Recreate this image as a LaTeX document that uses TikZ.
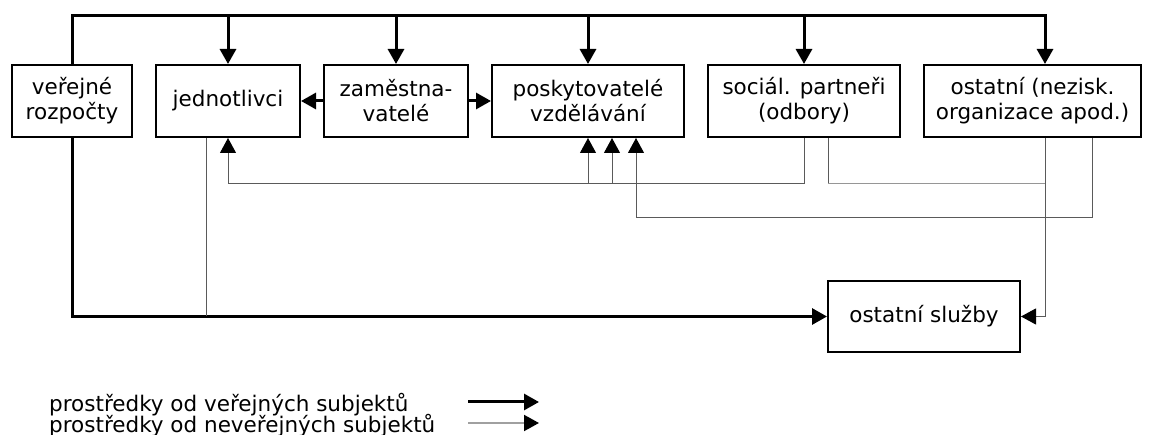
\documentclass[tikz,border=0pt]{standalone}
\usepackage{fontspec}
\setmainfont{DejaVu Sans}
\usetikzlibrary{arrows.meta}
\definecolor{privline}{RGB}{90,90,90}
\definecolor{privlight}{RGB}{150,150,150}
\definecolor{legendgray}{RGB}{160,160,160}
\begin{document}
\begin{tikzpicture}[x=1pt,y=-1pt,
  txt/.style={font=\fontsize{21.5}{25}\selectfont},
  box/.style={txt,draw=black,line width=2pt,inner sep=0pt,align=center,
              minimum height=72pt},
  pub/.style={draw=black,line width=3pt},
  priv/.style={draw=privline,line width=1pt},
  tip/.style={-{Triangle[length=15pt,width=16pt,color=black]}}]
\useasboundingbox (0,0) rectangle (1154,435);

% funding sources and recipients
\node[box,minimum width=120pt] (vr)  at (72,101)   {veřejné\\rozpočty};
\node[box,minimum width=144pt] (jed) at (228,101)  {jednotlivci};
\node[box,minimum width=144pt] (zam) at (396,101)  {zaměstna-\\vatelé};
\node[box,minimum width=192pt] (pos) at (588,101)  {poskytovatelé\\vzdělávání};
\node[box,minimum width=192pt] (soc) at (804,101)  {sociál. partneři\\(odbory)};
\node[box,minimum width=217pt] (ost) at (1032.5,101) {ostatní (nezisk.\\organizace apod.)};
\node[box,minimum width=192pt,minimum height=71pt] (sl) at (924,316.5) {ostatní služby};

% helper coordinates for the routing
\coordinate (top) at (1045,16);
\coordinate (r1) at (0,184);
\coordinate (r2) at (0,218);
\coordinate (xj) at (206,0);
\coordinate (x588) at (588,0);
\coordinate (x612) at (612,0);
\coordinate (x636) at (636,0);
\coordinate (x804) at (804,0);
\coordinate (x828) at (828,0);
\coordinate (x1045) at (1045,0);
\coordinate (x1092) at (1092,0);

% public money
\draw[pub,tip] (vr.north) |- (top) -- (top |- ost.north);
\draw[pub,tip] (jed.north |- top) -- (jed.north);
\draw[pub,tip] (zam.north |- top) -- (zam.north);
\draw[pub,tip] (pos.north |- top) -- (pos.north);
\draw[pub,tip] (soc.north |- top) -- (soc.north);
\draw[pub,tip] (zam.west) -- (jed.east);
\draw[pub,tip] (zam.east) -- (pos.west);
\draw[pub,tip] (vr.south) |- (sl.west);

% non-public money
\draw[priv] (jed.south -| xj) -- (xj |- sl.west);
\draw[priv,tip] (soc.south -| x804) |- (jed.south |- r1) -- (jed.south);
\draw[priv] (soc.south -| x828) -- (x828 |- r1);
\draw[draw=privlight,line width=1pt] (x828 |- r1) -- (x1045 |- r1);
\draw[priv,tip] (x588 |- r1) -- (pos.south -| x588);
\draw[priv,tip] (x612 |- r1) -- (pos.south -| x612);
\draw[priv,tip] (ost.south -| x1045) |- (sl.east);
\draw[priv,tip] (ost.south -| x1092) |- (x636 |- r2) -- (pos.south -| x636);

% legend
\node[txt,anchor=base west,inner sep=0pt] (l1) at (49,411) {prostředky od veřejných subjektů};
\node[txt,anchor=base west,inner sep=0pt] (l2) at (49,432) {prostředky od neveřejných subjektů};
\coordinate (a1s) at (468,402);
\coordinate (a1e) at (539,402);
\coordinate (a2s) at (468,423);
\coordinate (a2e) at (539,423);
\draw[pub,tip] (a1s) -- (a1e);
\draw[draw=legendgray,line width=2pt,tip] (a2s) -- (a2e);
\end{tikzpicture}
\end{document}
